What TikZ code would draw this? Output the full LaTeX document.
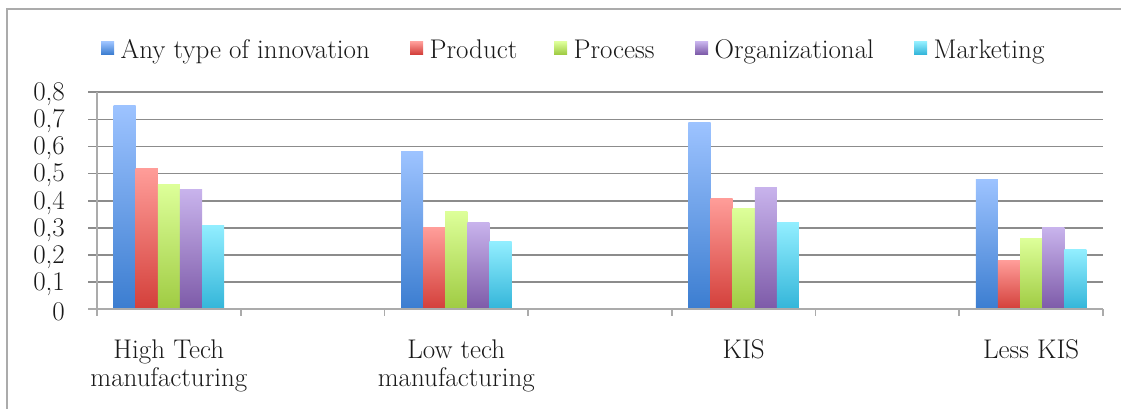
\documentclass[tikz,border=0pt]{standalone}
\usepackage{tikz}
\usetikzlibrary{positioning}

\definecolor{any1}{HTML}{9DC3FF}\definecolor{any2}{HTML}{3B7DD0}
\definecolor{prod1}{HTML}{FF9D99}\definecolor{prod2}{HTML}{D33F3A}
\definecolor{proc1}{HTML}{DDFF99}\definecolor{proc2}{HTML}{9FCB42}
\definecolor{org1}{HTML}{C8B3EC}\definecolor{org2}{HTML}{7D5AA8}
\definecolor{mkt1}{HTML}{92EEFF}\definecolor{mkt2}{HTML}{33B5D9}

\begin{document}
\begin{tikzpicture}[x=1pt, y=1pt,
  grid/.style={draw=black!45, line width=1.6pt},
  axis/.style={draw=black!33, line width=1.6pt},
  lbl/.style={inner sep=0pt, text=black!90, font=\fontsize{27}{28.5}\selectfont},
  swatch/.style={minimum width=13pt, minimum height=12.5pt, inner sep=0pt}]
  \useasboundingbox (0,0) rectangle (1121,409);
  \draw[black!33, line width=2pt] (7,0) |- (1121,400);
  % legend
  \foreach \x/\s/\t in {101/any/Any type of innovation, 410/prod/Product, 554/proc/Process, 695/org/Organizational, 914/mkt/Marketing}
  {
    \node[swatch, top color=\s1, bottom color=\s2, anchor=west] (sw-\s) at (\x,361) {};
    \node[lbl, anchor=base west] (lg-\s) at ([xshift=6pt, yshift=-11pt]sw-\s.east) {\t};
  }
  \begin{scope}[shift={(97,99.7)}, x=143.71pt, y=271.25pt]
    \foreach \v in {1,...,8}
    {
      \draw[grid] ([xshift=-9pt]0,\v/10) -- (7,\v/10);
      \node[lbl, anchor=east] (y\v) at ([xshift=-32pt, yshift=-2pt]0,\v/10) {0,\v};
    }
    \node[lbl, anchor=east] (y0) at ([xshift=-32pt, yshift=-2pt]0,0) {0};
    % bars
    \foreach \c/\a/\b/\p/\o/\m in {0/.75/.52/.46/.44/.31, 2/.58/.30/.36/.32/.25, 4/.69/.41/.37/.45/.32, 6/.48/.18/.26/.30/.22}
      \foreach \k/\v/\s in {0/\a/any, 1/\b/prod, 2/\p/proc, 3/\o/org, 4/\m/mkt}
        \path[top color=\s1, bottom color=\s2] (\c+.1155+.1538*\k,0) rectangle ++(.1538,\v);
    \draw[axis] (0,.8) -- (0,0);
    \draw[axis] ([xshift=-9pt]0,0) -- (7,0);
    \foreach \c in {0,...,7} \draw[axis] (\c,0) -- ++(0,-7pt);
    % categories
    \foreach \c/\t in {0/High Tech\\manufacturing, 2/Low tech\\manufacturing, 4/KIS, 6/Less KIS}
      \node[lbl, align=center, anchor=north] (cat\c) at (\c+.5,-30pt) {\t};
  \end{scope}
\end{tikzpicture}
\end{document}
